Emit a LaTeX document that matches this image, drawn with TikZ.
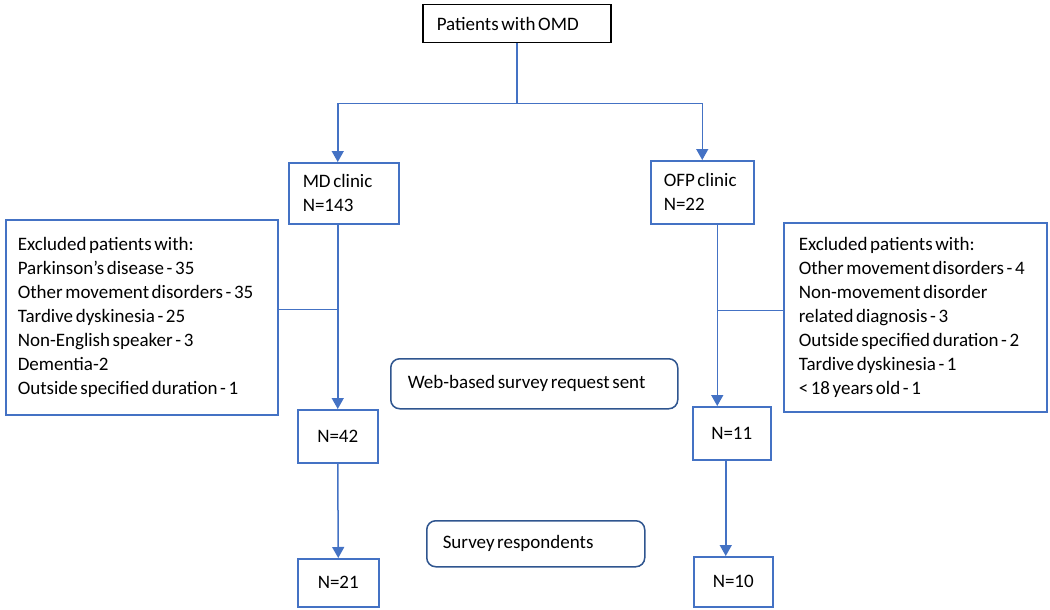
\documentclass[tikz,border=0pt]{standalone}
\usepackage{fontspec}
\setmainfont{Carlito}
\usetikzlibrary{arrows.meta}
\newlength{\du}
\setlength{\du}{1pt}
\newcommand{\flowspace}{\spaceskip=2.6pt plus 1pt minus 0.5pt\relax}
\definecolor{flowlinecolor}{rgb}{0.266667, 0.447059, 0.768627}
\definecolor{roundlinecolor}{rgb}{0.184314, 0.333333, 0.560784}

\begin{document}
\begin{tikzpicture}[
  every node/.style={font=\fontsize{19}{24}\selectfont, execute at begin node=\flowspace},
  flowbox/.style={draw=flowlinecolor, line width=1.5\du, anchor=north west, inner xsep=14\du, inner ysep=0pt, align=left},
  topbox/.style={flowbox, draw=black},
  notebox/.style={flowbox, draw=roundlinecolor, rounded corners=9\du},
  countbox/.style={flowbox, align=center, inner xsep=0pt},
  flowline/.style={draw=flowlinecolor, line width=1.5\du},
  flowarrow/.style={flowline, -{Triangle[width=12pt,length=11pt]}}
]
\pgftransformyscale{-1.000000}
\useasboundingbox (0\du,0\du) rectangle (1050\du,610\du);
% boxes
\node[topbox, text width=160\du, minimum height=38\du] (omd) at (422\du,4\du) {Patients with OMD};
\node[flowbox, text width=82\du, minimum height=61\du] (md) at (288\du,162\du) {MD clinic\\N=143};
\node[flowbox, inner xsep=13\du, text width=77\du, minimum height=63\du] (ofp) at (650\du,160\du) {OFP clinic\\N=22};
\node[flowbox, inner xsep=12\du, text width=248\du, minimum height=195\du] (exl) at (5\du,219\du) {Excluded patients with:\\Parkinson’s disease - 35\\Other movement disorders - 35\\Tardive dyskinesia - 25\\Non-English speaker - 3\\Dementia-2\\Outside specified duration - 1};
\node[flowbox, inner xsep=15\du, text width=233\du, minimum height=189\du] (exr) at (783\du,222\du) {Excluded patients with:\\Other movement disorders - 4\\Non-movement disorder\\related diagnosis - 3\\Outside specified duration - 2\\Tardive dyskinesia - 1\\< 18 years old - 1};
\node[notebox, inner xsep=17\du, text width=253\du, minimum height=50\du] (web) at (390\du,358\du) {Web-based survey request sent};
\node[notebox, inner xsep=16\du, text width=186\du, minimum height=46\du] (resp) at (426\du,520\du) {Survey respondents};
\node[countbox, minimum width=80\du, minimum height=53\du] (n42) at (297\du,409\du) {N=42};
\node[countbox, minimum width=81\du, minimum height=48\du] (n21) at (297\du,558\du) {N=21};
\node[countbox, minimum width=78\du, minimum height=53\du] (n11) at (692\du,406\du) {N=11};
\node[countbox, minimum width=79\du, minimum height=50\du] (n10) at (693\du,556\du) {N=10};
% connectors
\draw[flowline] (omd.south) -- ++(0,60\du) coordinate (split);
\draw[flowarrow] (split) -| (n42.north |- md.north);
\draw[flowarrow] (split) -| (ofp.north);
\draw[flowarrow] (n42.north |- md.south) -- (n42.north);
\draw[flowline] ([yshift=-8\du]exl.east) -- ([yshift=-8\du]exl.east -| n42.north);
\draw[flowarrow] (n42.south) -- (n21.north);
\coordinate (ofpout) at ([xshift=15\du]ofp.south);
\draw[flowarrow] (ofpout) -- (ofpout |- n11.north);
\draw[flowline] ([yshift=-7\du]exr.west) -- ([yshift=-7\du]exr.west -| ofpout);
\draw[flowarrow] ([xshift=-6\du]n11.south) -- ([xshift=-6\du]n11.south |- n10.north);
\end{tikzpicture}
\end{document}
